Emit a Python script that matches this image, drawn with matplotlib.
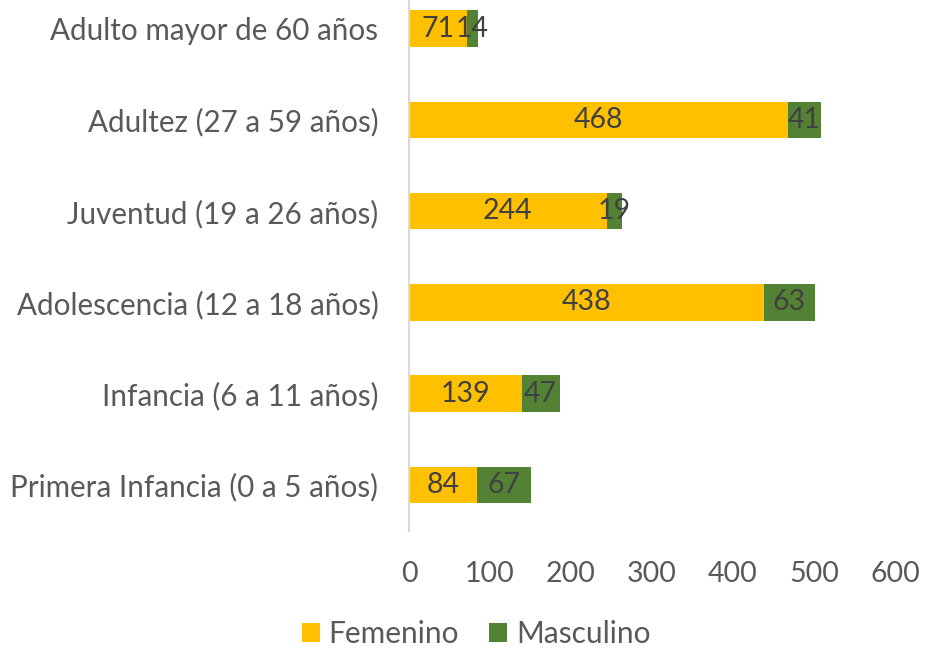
import matplotlib.pyplot as plt

plt.rcParams['font.family'] = ['Lato', 'DejaVu Sans']

categorias = ["Primera Infancia (0 a 5 años)", "Infancia (6 a 11 años)",
              "Adolescencia (12 a 18 años)", "Juventud (19 a 26 años)",
              "Adultez (27 a 59 años)", "Adulto mayor de 60 años"]
femenino = [84, 139, 438, 244, 468, 71]
masculino = [67, 47, 63, 19, 41, 14]

amarillo = '#FFC000'
verde = '#548235'
gris = '#595959'

fig = plt.figure(figsize=(9.33, 6.52), dpi=100)
W, H = 933, 652
x0, x1 = 409, 895
ytop, ybot = -17.1, 530.6
ax = fig.add_axes([x0 / W, (H - ybot) / H, (x1 - x0) / W, (ybot - ytop) / H])

pos = range(len(categorias))
b1 = ax.barh(pos, femenino, height=0.4, color=amarillo, label='Femenino')
b2 = ax.barh(pos, masculino, left=femenino, height=0.4, color=verde, label='Masculino')
ax.bar_label(b1, label_type='center', color='#404040', fontsize=20.5)
ax.bar_label(b2, label_type='center', color='#404040', fontsize=20.5)

ax.set_xlim(0, 600)
ax.set_ylim(-0.5, len(categorias) - 0.5)
ax.set_xticks(range(0, 601, 100))
ax.set_yticks(list(pos))
ax.set_yticklabels(categorias, fontsize=21.3)
ax.tick_params(axis='both', length=0, colors=gris)
ax.tick_params(axis='x', pad=22, labelsize=20.5)
ax.tick_params(axis='y', pad=22)
for s in ['top', 'right', 'bottom']:
    ax.spines[s].set_visible(False)
ax.spines['left'].set_color('#D9D9D9')
ax.spines['left'].set_linewidth(1.5)

leg = fig.legend(handles=[b1, b2], loc='center', bbox_to_anchor=(476 / W, 1 - 634 / H),
                 ncol=2, frameon=False, fontsize=21.5, handlelength=0.6, handleheight=0.6,
                 handletextpad=0.3, columnspacing=1.0)
for t in leg.get_texts():
    t.set_color(gris)

fig.savefig('out.png', dpi=100)
